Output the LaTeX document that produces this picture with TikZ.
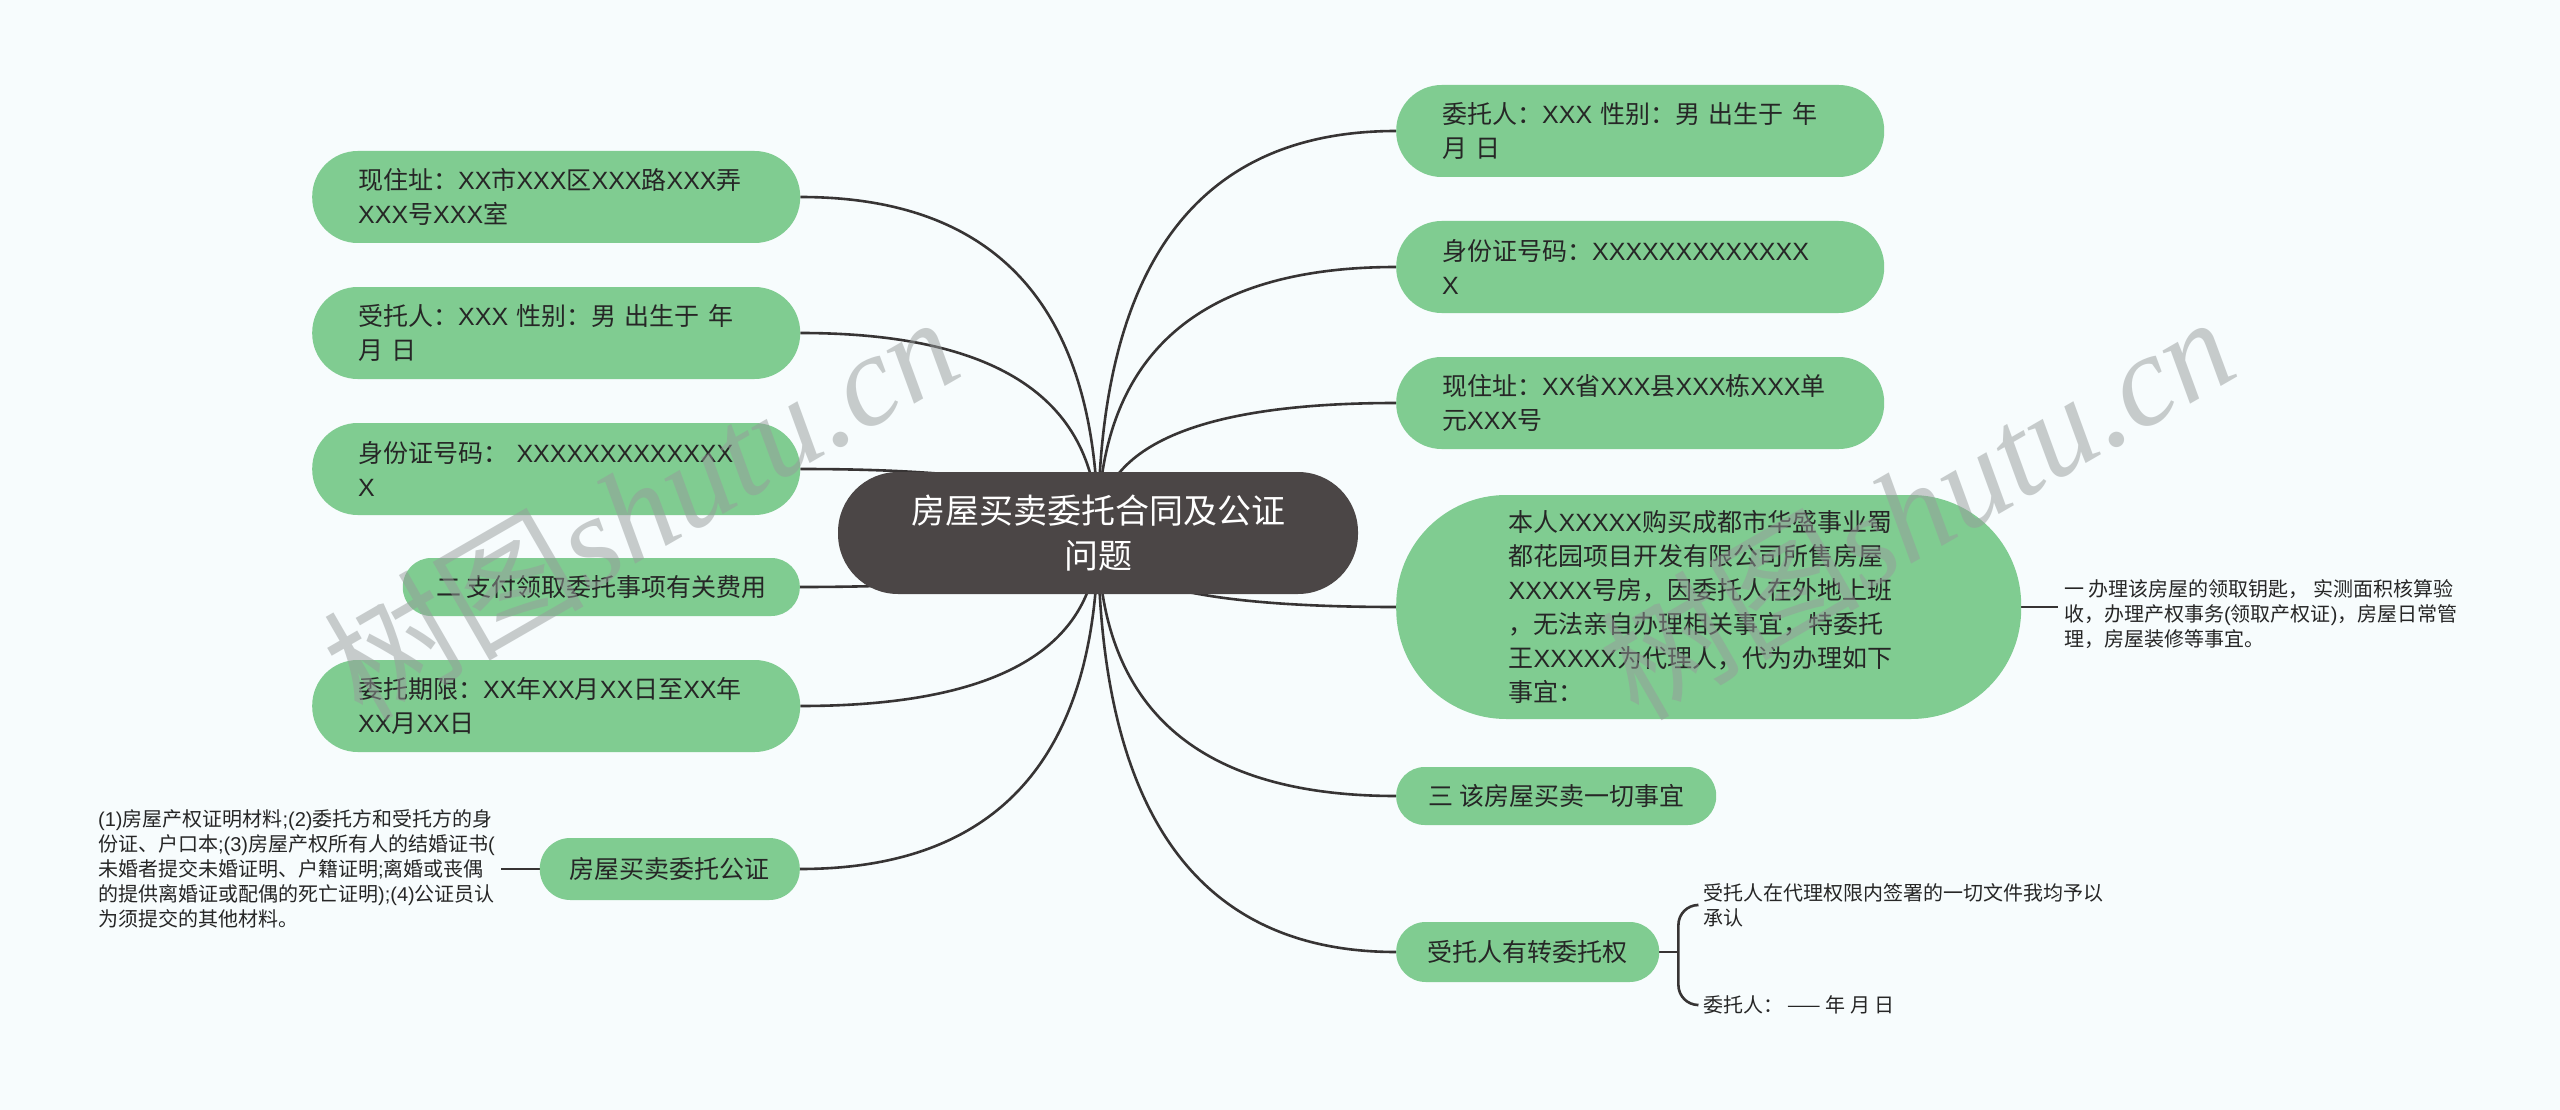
\documentclass[tikz,border=0pt]{standalone}
\usepackage{fontspec}
\setmainfont{Noto Sans CJK SC}
\newfontfamily\cjkf{Noto Sans CJK SC}
\newfontfamily\latinf{Liberation Sans}
\newfontfamily\wmserif{Liberation Serif}
\usetikzlibrary{calc}
\pgfdeclarelayer{bg}
\pgfdeclarelayer{back}
\pgfsetlayers{bg,back,main}
% Latin letters in Liberation Sans, CJK in Noto Sans CJK SC
\newXeTeXintercharclass\cjkcls
\newcount\mycnt
\newcommand\setcjkrange[2]{\mycnt=#1\relax
  \loop\XeTeXcharclass\mycnt=\cjkcls\relax\advance\mycnt by 1\relax\ifnum\mycnt<#2\relax\repeat}
\setcjkrange{"3000}{"3040}
\setcjkrange{"4E00}{"A000}
\setcjkrange{"FF00}{"FFF0}
\XeTeXcharclass"2014=\cjkcls
\XeTeXinterchartoks 4095 \cjkcls = {\cjkf}
\XeTeXinterchartoks 0 \cjkcls = {\cjkf}
\XeTeXinterchartoks 4095 0 = {\latinf}
\XeTeXinterchartoks \cjkcls 0 = {\latinf}
\XeTeXinterchartokenstate=1
\newcommand\wmfont{\XeTeXinterchartokenstate=0\relax\fontsize{130pt}{130pt}\selectfont}
\definecolor{bgc}{RGB}{247,252,253}
\definecolor{gfill}{RGB}{128,204,145}
\definecolor{cfill}{RGB}{75,70,70}
\definecolor{linec}{RGB}{55,52,52}
\definecolor{txt}{RGB}{38,38,38}
\definecolor{wmc}{RGB}{150,155,155}
\newcommand\mmlink[1]{\draw[conn] (ctr.center) .. controls ($(ctr.center)!0.6667!(ctr.center |- #1)$) and ($(#1)!0.6667!(ctr.center |- #1)$) .. (#1);}
\begin{document}
\begin{tikzpicture}[x=1pt,y=-1pt,
  conn/.style={draw=linec, line width=2.6pt},
  gbox/.style={fill=gfill, text=txt, font=\fontsize{25pt}{34pt}\selectfont, inner ysep=0pt},
  twoline/.style={gbox, rounded corners=45.5pt, minimum height=92pt, inner xsep=46pt, text width=396pt, align=left, anchor=west},
  oneline/.style={gbox, rounded corners=28.5pt, minimum height=58pt, inner xsep=0pt, align=center},
  notetext/.style={text=txt, font=\fontsize{20pt}{25pt}\selectfont, align=left, inner ysep=0pt, inner xsep=6pt},
  wmark/.style={text=wmc, opacity=0.5, rotate=30, inner sep=0pt, font=\wmfont}]
\begin{pgfonlayer}{bg}
\fill[bgc] (0,0) rectangle (2560,1110);
\end{pgfonlayer}
\useasboundingbox (0,0) rectangle (2560,1110);

% central reference point
\path (1098,533) node[minimum width=520pt, minimum height=122pt, inner sep=0pt] (ctr) {};

% left branch nodes
\node[twoline] (l1) at (312,197) {现住址：XX市XXX区XXX路XXX弄\\XXX号XXX室};
\node[twoline] (l2) at (312,333) {受托人：XXX 性别：男 出生于 年\\月 日};
\node[twoline] (l3) at (312,469) {身份证号码：\ XXXXXXXXXXXXX\\X};
\node[oneline, anchor=east, minimum width=397pt] (l4) at (800,587) {二 支付领取委托事项有关费用};
\node[twoline] (l5) at (312,706) {委托期限：XX年XX月XX日至XX年\\XX月XX日};
\node[oneline, anchor=east, minimum width=260pt, minimum height=62pt, rounded corners=30.5pt] (l6) at (800,869) {房屋买卖委托公证};

% right branch nodes
\node[twoline] (r1) at (1396,131) {委托人：XXX 性别：男 出生于 年\\月 日};
\node[twoline] (r2) at (1396,267) {身份证号码：XXXXXXXXXXXXX\\X};
\node[twoline] (r3) at (1396,403) {现住址：XX省XXX县XXX栋XXX单\\元XXX号};
\node[gbox, anchor=west, rounded corners=110pt, minimum height=224pt, inner xsep=112.5pt, text width=400pt, align=left] (r4) at (1396,607)
  {本人XXXXX购买成都市华盛事业蜀\\都花园项目开发有限公司所售房屋\\XXXXX号房，因委托人在外地上班\\，无法亲自办理相关事宜，特委托\\王XXXXX为代理人，代为办理如下\\事宜：};
\node[oneline, anchor=west, minimum width=320pt] (r5) at (1396,796) {三 该房屋买卖一切事宜};
\node[oneline, anchor=west, minimum width=263pt, minimum height=60pt, rounded corners=29.5pt] (r6) at (1396,952) {受托人有转委托权};

% notes
\node[notetext, anchor=east] (n1) at (501,869) {(1)房屋产权证明材料;(2)委托方和受托方的身\\份证、户口本;(3)房屋产权所有人的结婚证书(\\未婚者提交未婚证明、户籍证明;离婚或丧偶\\的提供离婚证或配偶的死亡证明);(4)公证员认\\为须提交的其他材料。};
\node[notetext, anchor=west] (n2) at (2058,614) {一 办理该房屋的领取钥匙， 实测面积核算验\\收，办理产权事务(领取产权证)，房屋日常管\\理，房屋装修等事宜。};
\node[notetext, anchor=west] (n3) at (1697,905) {受托人在代理权限内签署的一切文件我均予以\\承认};
\node[notetext, anchor=west] (n4) at (1697,1005) {委托人： —— 年 月 日};

\begin{pgfonlayer}{back}
  \mmlink{l1.east}
  \mmlink{l2.east}
  \mmlink{l3.east}
  \mmlink{l4.east}
  \mmlink{l5.east}
  \mmlink{l6.east}
  \mmlink{r1.west}
  \mmlink{r2.west}
  \mmlink{r3.west}
  \mmlink{r4.west}
  \mmlink{r5.west}
  \mmlink{r6.west}
  \draw[conn] (l6.west) -- (n1.east |- l6.west);
  \draw[conn] (r4.east) -- (n2.west |- r4.east);
  \coordinate (bx) at ($(r6.east)+(19,0)$);
  \draw[conn] (r6.east) -- (bx);
  \draw[conn, rounded corners=20pt] (n3.west) -- (bx |- n3.west) -- (bx |- n4.west) -- (n4.west);
\end{pgfonlayer}

% central node drawn on top of the connectors
\node[fill=cfill, text=white, rounded corners=60pt, minimum width=520pt, minimum height=122pt, inner sep=0pt, align=center,
  font=\fontsize{34pt}{45pt}\selectfont] (ctrbox) at (ctr.center) {房屋买卖委托合同及公证\\问题};

% watermarks
\node[wmark] (wm1) at (640,505) {树图{\wmserif\itshape shutu.cn}};
\node[wmark] (wm2) at (1916,505) {树图{\wmserif\itshape shutu.cn}};
\end{tikzpicture}
\end{document}
